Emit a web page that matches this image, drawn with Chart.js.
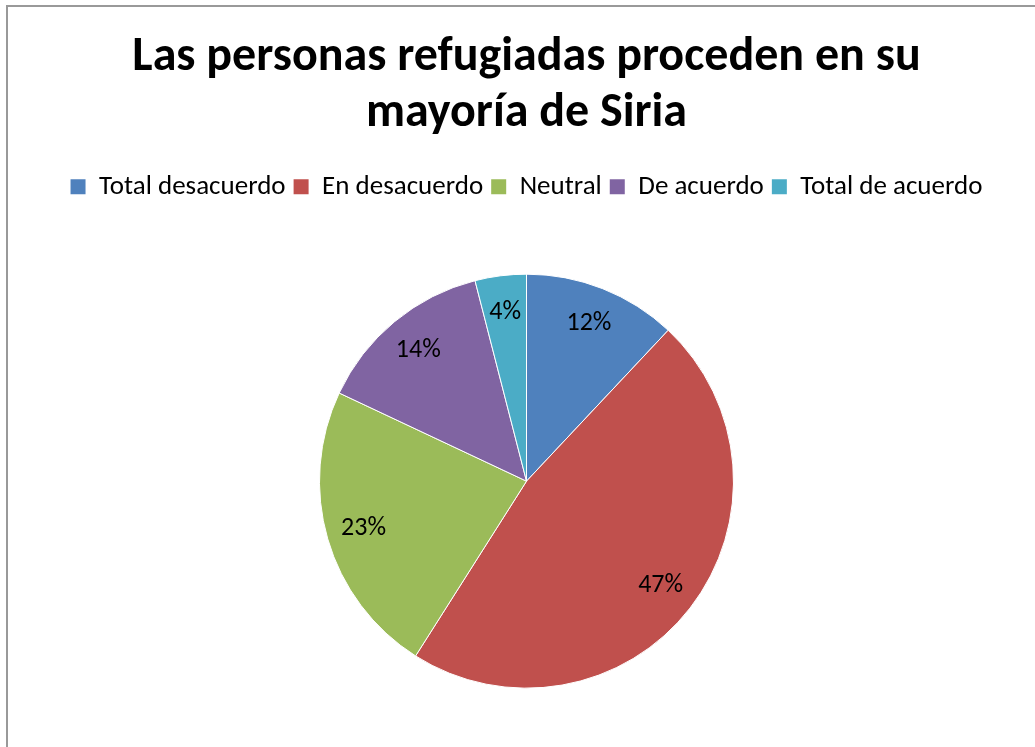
<!DOCTYPE html>
<html>
<head>
<meta charset="utf-8">
<script src="https://cdn.jsdelivr.net/npm/chart.js@4/dist/chart.umd.min.js"></script>
<style>
  html, body { margin: 0; padding: 0; background: #fff; overflow: hidden; }
  body { width: 1035px; height: 747px; position: relative; }
  #frame {
    position: absolute;
    left: 6px;
    top: 5px;
    width: 1041px;
    height: 800px;
    border: 2px solid #999;
    box-sizing: border-box;
  }
  #chart { display: block; }
</style>
</head>
<body>
<div id="frame"><canvas id="chart" width="1037" height="796"></canvas></div>
<script>
const titleLines = ["Las personas refugiadas proceden en su", "mayoría de Siria"];
const categories = ["Total desacuerdo", "En desacuerdo", "Neutral", "De acuerdo", "Total de acuerdo"];
const percentages = [12, 47, 23, 14, 4];
const sliceColors = ["#4F81BD", "#C0504D", "#9BBB59", "#8064A2", "#4BACC6"];

const fontFamily = "Carlito, Calibri, Lato, 'Liberation Sans', sans-serif";

// percentage labels drawn inside each slice
const sliceLabels = {
  id: "sliceLabels",
  afterDatasetsDraw(chart) {
    const { ctx } = chart;
    const meta = chart.getDatasetMeta(0);
    ctx.save();
    ctx.font = `26px ${fontFamily}`;
    ctx.fillStyle = "#000";
    ctx.textAlign = "center";
    ctx.textBaseline = "middle";
    meta.data.forEach((arc, i) => {
      const { x, y, startAngle, endAngle, outerRadius } = arc.getProps(
        ["x", "y", "startAngle", "endAngle", "outerRadius"], true
      );
      const mid = (startAngle + endAngle) / 2;
      const r = outerRadius * 0.82;
      ctx.fillText(`${percentages[i]}%`, x + Math.cos(mid) * r, y + Math.sin(mid) * r);
    });
    ctx.restore();
  }
};

const pieLegendLabels = Chart.overrides.pie.plugins.legend.labels.generateLabels;

new Chart(document.querySelector("#chart"), {
  type: "pie",
  data: {
    labels: categories,
    datasets: [{
      data: percentages,
      backgroundColor: sliceColors,
      borderColor: "#ffffff",
      borderWidth: 1,
      radius: 207
    }]
  },
  options: {
    responsive: false,
    animation: false,
    layout: { padding: { top: 0, bottom: 51 } },
    plugins: {
      title: {
        display: true,
        text: titleLines,
        color: "#000",
        font: { family: fontFamily, size: 48, weight: "bold", lineHeight: 1.17 },
        padding: { top: 23, bottom: 23 }
      },
      legend: {
        position: "top",
        labels: {
          color: "#000",
          font: { family: fontFamily, size: 27 },
          boxWidth: 15,
          boxHeight: 15,
          padding: 8,
          generateLabels: (chart) => pieLegendLabels(chart).map((item) => ({ ...item, lineWidth: 0 }))
        }
      },
      tooltip: { enabled: false }
    }
  },
  plugins: [sliceLabels]
});
</script>
</body>
</html>
